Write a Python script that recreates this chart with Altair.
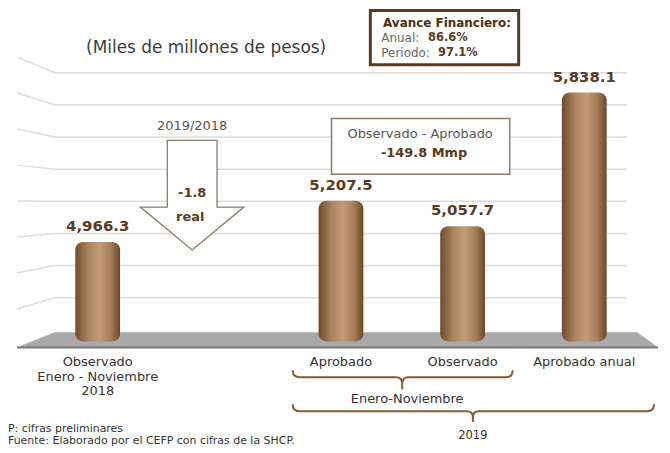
import altair as alt
import pandas as pd

# ---------------- data ----------------
slot_keys = ["obs2018", "gap", "aprob", "obs2019", "anual"]
bar_keys = ["obs2018", "aprob", "obs2019", "anual"]
bar_values = [4966.3, 5207.5, 5057.7, 5838.1]
value_labels = ["4,966.3", "5,207.5", "5,057.7", "5,838.1"]
category_labels = ["Observado\nEnero - Noviembre\n2018", "Aprobado", "Observado", "Aprobado anual"]
grid_values = [4641, 4829, 5016, 5204, 5391, 5579, 5767, 5954]
BASE = 4385
Y_DOMAIN = [3787, 6326]

title_text = "(Miles de millones de pesos)"
box_title = "Avance Financiero:"
anual_label, anual_value = "Anual:", "86.6%"
periodo_label, periodo_value = "Periodo:", "97.1%"
arrow_title, arrow_value, arrow_unit = "2019/2018", "-1.8", "real"
diff_title, diff_value = "Observado - Aprobado", "-149.8 Mmp"
brace1_label, brace2_label = "Enero-Noviembre", "2019"
note1 = "P: cifras preliminares"
note2 = "Fuente: Elaborado por el CEFP con cifras de la SHCP."

# ---------------- style ----------------
FONT = "DejaVu Sans"
W, H = 654, 437
O = 8  # page margin: reference pixel -> plot pixel
BROWN = "#5b3a1d"
LINE_BROWN = "#8c7a6b"
BRACE = "#8b5a2e"

xs = alt.Scale(domain=slot_keys, range=[29, 640], paddingInner=0, paddingOuter=0)
ys = alt.Scale(domain=Y_DOMAIN, nice=False, zero=False)

one = pd.DataFrame({"a": [0]})

bars_df = pd.DataFrame({
    "k": bar_keys, "v": bar_values, "lab": value_labels,
    "cat": category_labels, "base": [BASE] * len(bar_keys),
})
vc = 5193
grid_df = pd.DataFrame({"g": grid_values,
                        "gl": [vc + 1.12 * (g - vc) for g in grid_values]})


def txt(text, x, y, size=12, weight="normal", color="#444", align="center", baseline="middle"):
    return alt.Chart(pd.DataFrame({"t": [text]})).mark_text(
        font=FONT, fontSize=size, fontWeight=weight, color=color,
        align=align, baseline=baseline,
    ).encode(x=alt.value(x - O), y=alt.value(y - O), text="t:N")


def shape(path, **kw):
    # size=4 -> custom path drawn at scale 1, in reference pixel coordinates
    return alt.Chart(one).mark_point(shape=path, size=4, opacity=1, **kw).encode(
        x=alt.value(-O), y=alt.value(-O))


def box(x1, x2, y1, y2, **kw):
    return alt.Chart(one).mark_rect(**kw).encode(
        x=alt.value(x1 - O), x2=alt.value(x2 - O),
        y=alt.value(y1 - O), y2=alt.value(y2 - O))


grid = alt.Chart(grid_df).mark_rule(color="#dcdcdc", strokeWidth=1.5).encode(
    y=alt.Y("g:Q", scale=ys, axis=None), x=alt.value(55 - O), x2=alt.value(630 - O))
stubs = alt.Chart(grid_df).mark_rule(color="#dcdcdc", strokeWidth=1.5).encode(
    x=alt.value(17 - O), y=alt.Y("gl:Q", scale=ys, axis=None),
    x2=alt.value(55 - O), y2="g:Q")

floor = shape("M17,348 L55,333 L640,333 L661,348 Z", filled=True, fill="#a9a9a9", stroke="#a9a9a9", strokeWidth=0.5)
floor_edge = shape("M17,348 L661,348", filled=False, stroke="#7a7a7a", strokeWidth=2)

bar_grad = alt.Gradient(
    gradient="linear", x1=0, x2=1, y1=0, y2=0,
    stops=[alt.GradientStop(offset=0, color="#6e4b2c"),
           alt.GradientStop(offset=0.3, color="#ac8662"),
           alt.GradientStop(offset=0.55, color="#c29c77"),
           alt.GradientStop(offset=0.8, color="#a27b58"),
           alt.GradientStop(offset=1, color="#6a4829")])

bars = alt.Chart(bars_df).mark_bar(size=45, cornerRadius=8, color=bar_grad).encode(
    x=alt.X("k:N", scale=xs, axis=None),
    y=alt.Y("v:Q", scale=ys, axis=None),
    y2="base:Q")

values_txt = alt.Chart(bars_df).mark_text(
    font=FONT, fontSize=15, fontWeight="bold", color=BROWN, baseline="bottom", dy=-8
).encode(x=alt.X("k:N", scale=xs, axis=None), y=alt.Y("v:Q", scale=ys, axis=None), text="lab:N")

cats_txt = alt.Chart(bars_df).mark_text(
    font=FONT, fontSize=13, color="#333333", baseline="top", lineBreak="\n", lineHeight=14.5
).encode(x=alt.X("k:N", scale=xs, axis=None), y=alt.value(357 - O), text="cat:N")

arrow = shape("M168,140 L218,140 L218,207 L245,207 L193,250 L141,207 L168,207 Z",
              filled=True, fill="white", stroke=LINE_BROWN, strokeWidth=1.3)

diff_box = box(333, 512, 118, 174, fill="white", stroke=LINE_BROWN, strokeWidth=1.5)
top_box = box(372, 521, 9.5, 64, fill="white", stroke="#5a3a1e", strokeWidth=3)

brace1 = shape("M294,371 Q294,378 301,378 L398,378 Q404,378 404,385 L404,390 "
               "M404,385 Q404,378 410,378 L508,378 Q515,378 515,371",
               filled=False, stroke=BRACE, strokeWidth=2)
brace2 = shape("M294,405 Q294,412 301,412 L469,412 Q475,412 475,418 L475,423 "
               "M475,418 Q475,412 481,412 L650,412 Q657,412 657,405",
               filled=False, stroke=BRACE, strokeWidth=2)

texts = [
    txt(title_text, 207, 47, size=17, color="#3c3c3c"),
    txt(box_title, 449, 22, size=12, weight="bold", color="#4a2e14"),
    txt(anual_label, 383, 37, size=12, color="#666666", align="left"),
    txt(anual_value, 430, 37, size=11.5, weight="bold", color=BROWN, align="left"),
    txt(periodo_label, 383, 52, size=12, color="#666666", align="left"),
    txt(periodo_value, 440, 52, size=11.5, weight="bold", color=BROWN, align="left"),
    txt(arrow_title, 193, 126, size=13, color="#555555"),
    txt(arrow_value, 193, 193, size=13, weight="bold", color=BROWN),
    txt(arrow_unit, 191, 217, size=13, weight="bold", color=BROWN),
    txt(diff_title, 422, 134, size=13, color="#555555"),
    txt(diff_value, 426, 153, size=13, weight="bold", color=BROWN),
    txt(brace1_label, 409, 400, size=13, color="#333333"),
    txt(brace2_label, 475, 437, size=11.5, color="#333333"),
    txt(note1, 8, 430, size=11, color="#333333", align="left"),
    txt(note2, 8, 442, size=11, color="#333333", align="left"),
]

chart = alt.layer(
    grid, stubs, diff_box, floor, floor_edge, bars, values_txt, cats_txt,
    arrow, top_box, brace1, brace2, *texts
).properties(width=W, height=H, padding=0).configure_view(stroke=None)

chart.save("out.html", embed_options={"renderer": "svg", "actions": False})
